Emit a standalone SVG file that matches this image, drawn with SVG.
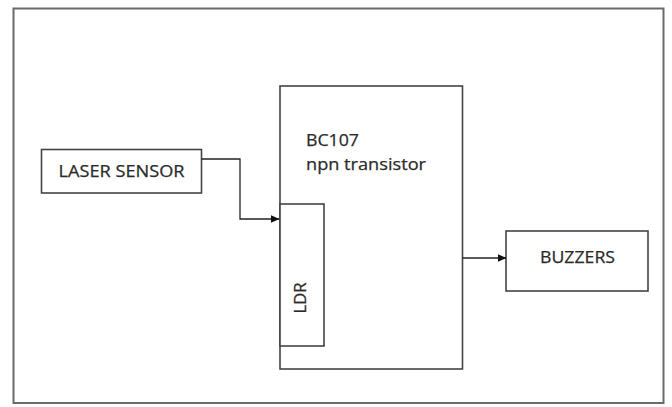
<svg xmlns="http://www.w3.org/2000/svg" width="672" height="407" viewBox="0 0 672 407">
<style>
.box{fill:#fff;stroke:#444;stroke-width:1.6}
.frame{fill:#fff;stroke:#6a6a6a;stroke-width:2}
.lbl{font-family:"Open Sans","Liberation Sans",sans-serif;font-size:17px;fill:#2a2a2a;stroke:#2a2a2a;stroke-width:0.25}
.wire{fill:none;stroke:#222;stroke-width:1.3}
</style>
<defs>
<marker id="arr" markerWidth="9" markerHeight="8" refX="8.5" refY="4" orient="auto" markerUnits="userSpaceOnUse">
<path d="M0,0 L9,4 L0,8 Z" fill="#111"/>
</marker>
</defs>
<rect class="frame" x="13.5" y="8.5" width="650" height="394.5"/>
<g id="transistor">
<rect class="box" x="280" y="86" width="182.5" height="283"/>
<text class="lbl" x="306" y="146" textLength="53" lengthAdjust="spacingAndGlyphs">BC107</text>
<text class="lbl" x="306" y="170" textLength="120" lengthAdjust="spacingAndGlyphs">npn transistor</text>
</g>
<g id="ldr">
<rect class="box" x="280" y="204" width="44" height="142"/>
<text class="lbl" transform="translate(306,298) rotate(-90)" text-anchor="middle" textLength="31" lengthAdjust="spacingAndGlyphs">LDR</text>
</g>
<g id="laser">
<rect class="box" x="41.5" y="149.5" width="160" height="43.5"/>
<text class="lbl" x="121.5" y="177" text-anchor="middle" textLength="126" lengthAdjust="spacingAndGlyphs">LASER SENSOR</text>
</g>
<g id="buzzers">
<rect class="box" x="506" y="231" width="142" height="60"/>
<text class="lbl" x="577.5" y="263" text-anchor="middle" textLength="75" lengthAdjust="spacingAndGlyphs">BUZZERS</text>
</g>
<g id="connectors">
<path class="wire" d="M201.5,159 H240 V219 H279" marker-end="url(#arr)"/>
<path class="wire" d="M462.5,258 H506" marker-end="url(#arr)"/>
</g>
</svg>
